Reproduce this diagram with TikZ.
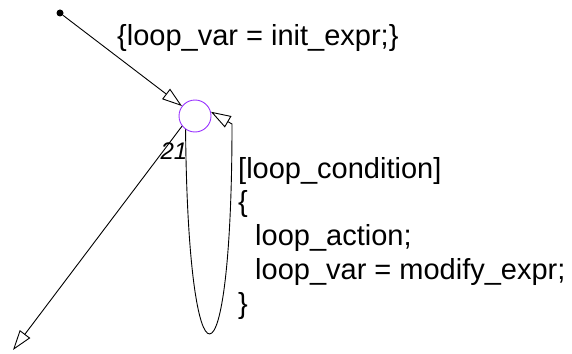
\documentclass[tikz,border=0pt]{standalone}
\usepackage{fontspec}
\setmainfont{Liberation Sans}
\usetikzlibrary{arrows.meta,positioning,calc}
\definecolor{juncviolet}{HTML}{9933FF}
\tikzset{
  junc/.style={circle,draw=juncviolet,line width=0.9pt,minimum size=32pt,inner sep=0pt},
  dfltdot/.style={circle,fill=black,minimum size=7pt,inner sep=0pt},
  arr/.style={-{Triangle[open,length=20pt,width=13pt,fill=white]},line width=0.9pt},
  lbl/.style={font=\fontsize{29}{33.7}\selectfont,align=left,inner sep=0pt},
  numlbl/.style={font=\fontsize{24}{26}\selectfont\itshape,inner sep=0pt}
}

\begin{document}
\begin{tikzpicture}[x=1pt, y=-1pt]
  \useasboundingbox (0,0) rectangle (572,353);
  % Default transition and junction
  \node[dfltdot] (start) at (60,13) {};
  \node[junc] (j21) at (195,116) {};
  \node[numlbl] (j21num) at (174,151) {21};
  \node[lbl, anchor=west] (init) at (117,38) {\{loop\_var = init\_expr;\}};

  % Loop transition
  \coordinate (looptop) at (232,124);
  \draw[arr] (start) -- (j21);
  \draw[arr] (j21.235) .. controls (188,403) and (232,403) .. (looptop) -- (j21.15);
  \node[lbl, anchor=north west] (cond) at (238,157) {[loop\_condition]\\
    \{\\
    \hspace{17pt}loop\_action;\\
    \hspace{17pt}loop\_var = modify\_expr;\\
    \}};

  % Exit transition
  \coordinate (exit) at (13,350);
  \draw[arr] (j21.218) -- (exit);
\end{tikzpicture}
\end{document}
